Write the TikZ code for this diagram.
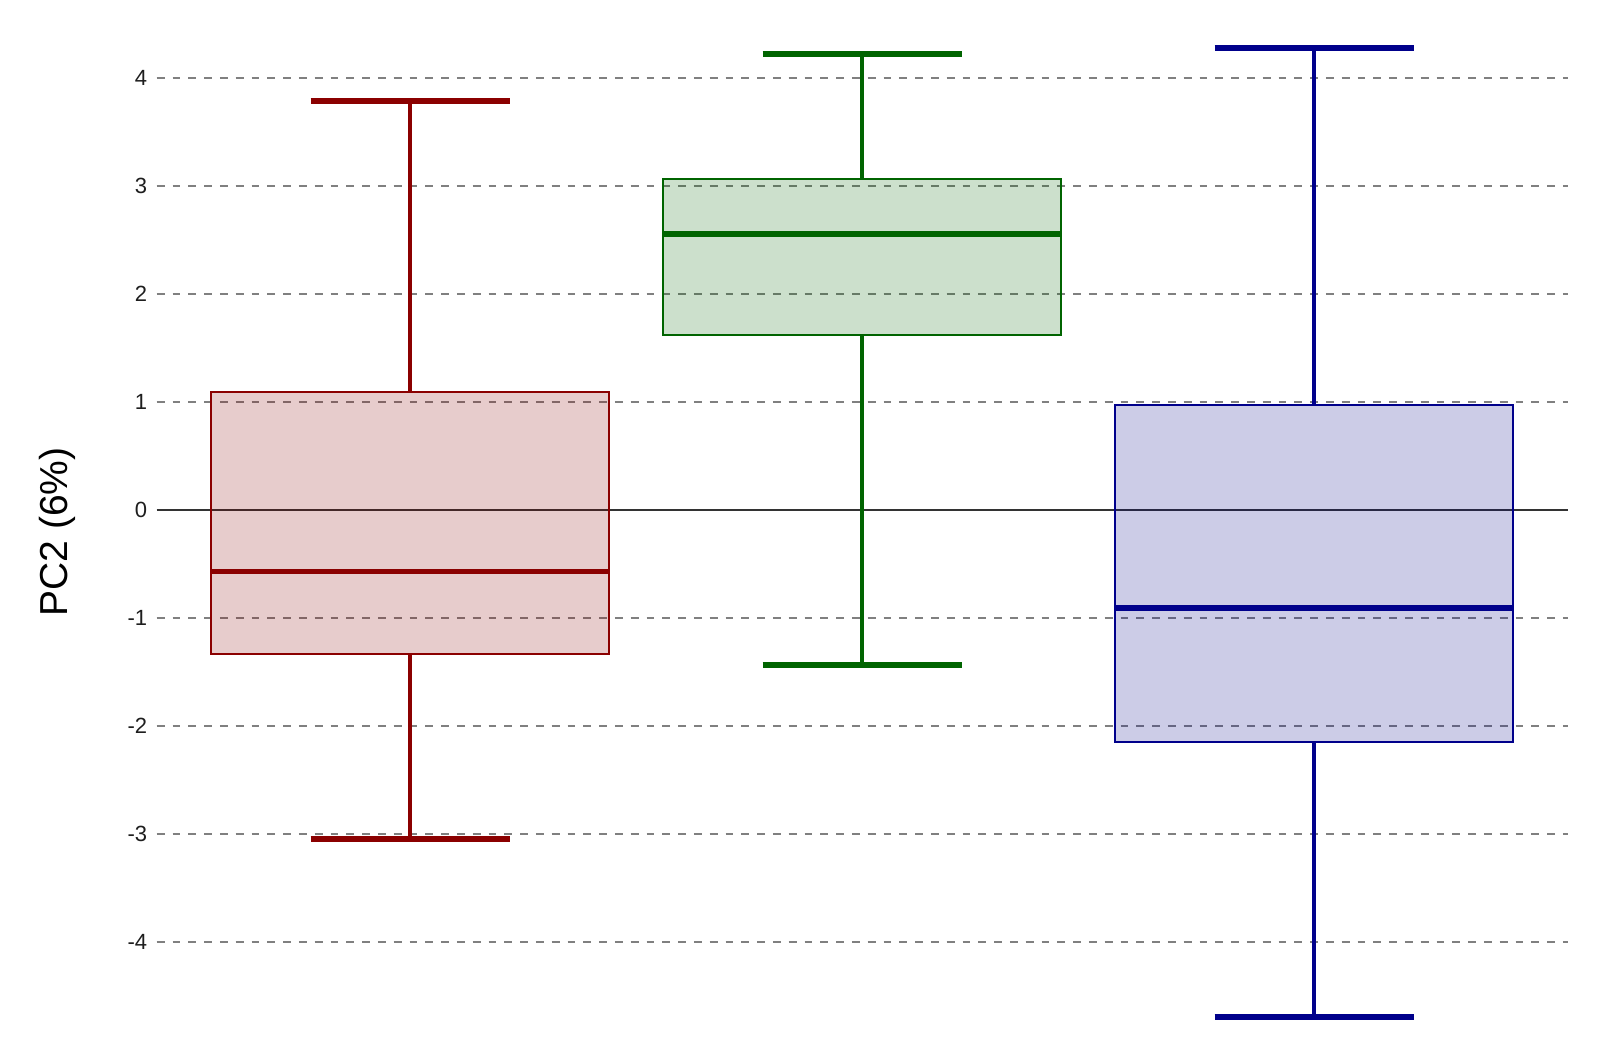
\documentclass[tikz,border=0pt]{standalone}
\usepackage{fontspec}
\setmainfont{Liberation Sans}
\definecolor{cred}{RGB}{139,0,0}
\definecolor{cgreen}{RGB}{0,100,0}
\definecolor{cblue}{RGB}{0,0,139}
\definecolor{gridgray}{RGB}{128,128,128}
\definecolor{ticktext}{RGB}{30,30,30}
\tikzset{
  gridline/.style={draw=gridgray, line width=1pt, dash pattern=on 3.9pt off 4pt},
  zeroline/.style={draw=black!80, line width=0.9pt},
  boxshape/.style={line width=1pt, fill opacity=0.2},
  medianline/.style={line width=2.7pt},
  whiskerline/.style={line width=2.1pt},
  capline/.style={line width=2.9pt},
  ticklabel/.style={anchor=east, inner sep=0pt, text=ticktext, font=\fontsize{11}{13}\selectfont},
  axislabel/.style={rotate=90, inner sep=0pt, font=\fontsize{19.5}{23}\selectfont}
}
\newcommand{\drawboxplot}[8]{%
  % #1 center x, #2 color, #3 lower whisker, #4 q1, #5 median, #6 q3, #7 upper whisker, #8 name
  \fill[#2, fill opacity=0.2] ({#1-199},#4) rectangle ({#1+199},#6);
  \draw[#2, line width=1pt] ({#1-199},#4) rectangle ({#1+199},#6);
  \draw[#2, medianline] ({#1-199},#5) -- ({#1+199},#5);
  \coordinate (#8lo) at (#1,#3);
  \coordinate (#8hi) at (#1,#7);
  \coordinate (#8q1) at (#1,#4);
  \coordinate (#8q3) at (#1,#6);
  \draw[#2, whiskerline] (#8q3) -- (#8hi);
  \draw[#2, whiskerline] (#8q1) -- (#8lo);
  \draw[#2, capline] ({#1-99.5},#7) -- ({#1+99.5},#7);
  \draw[#2, capline] ({#1-99.5},#3) -- ({#1+99.5},#3);
}
\begin{document}
\begin{tikzpicture}[x=0.5pt, y=54.05pt]
\useasboundingbox (0,4.7179) rectangle (1603,-4.949);
\fill[white] (0,4.7179) rectangle (1603,-4.949);
% grid
\foreach \v in {-4,-3,-2,-1,1,2,3,4} {
  \draw[gridline] (156.7,\v) -- (1567.6,\v);
}
\draw[zeroline] (156.7,0) -- (1567.6,0);
% tick labels
\foreach \v in {-4,-3,-2,-1,0,1,2,3,4} {
  \node[ticklabel] (t\v) at (147.5,\v) {\v};
}
% axis label
\node[axislabel] (ylab) at (57.5,-0.2035) {PC2 (6\%)};
% boxes
\drawboxplot{410}{cred}{-3.045}{-1.333}{-0.567}{1.087}{3.78}{ba}
\drawboxplot{862}{cgreen}{-1.437}{1.617}{2.553}{3.064}{4.217}{bb}
\drawboxplot{1314}{cblue}{-4.69}{-2.147}{-0.908}{0.974}{4.274}{bc}
\end{tikzpicture}
\end{document}
